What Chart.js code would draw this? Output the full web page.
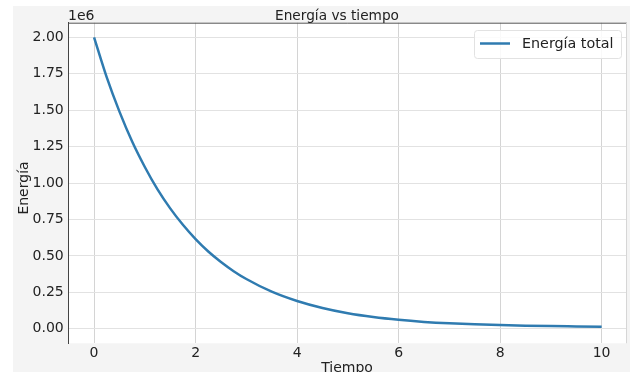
<!DOCTYPE html>
<html>
<head>
<meta charset="utf-8">
<script src="https://cdn.jsdelivr.net/npm/chart.js@4.4.1/dist/chart.umd.min.js"></script>
<style>
  html, body { margin: 0; padding: 0; background: #ffffff; }
  #wrap { width: 630px; height: 372px; position: relative; }
</style>
</head>
<body>
<div id="wrap"><canvas id="c" width="630" height="372"></canvas></div>
<script>
// Time samples (s) and total energy (J)
const tiempo = [0, 0.25, 0.5, 0.75, 1, 1.25, 1.5, 1.75, 2, 2.25, 2.5, 2.75, 3, 3.5, 4, 4.5, 5, 5.5,
                6, 6.5, 7, 7.5, 8, 8.5, 9, 9.5, 10];
const energia = [2000000, 1725000, 1490000, 1285000, 1110000, 956000, 826000, 713000, 615000, 530000,
                 458000, 395000, 341000, 254000, 190000, 142000, 106000, 80000, 61000, 47000, 37000,
                 30000, 25000, 21000, 18000, 16000, 14000];
const xTicks = [0, 2, 4, 6, 8, 10];
const yTicks = [0, 250000, 500000, 750000, 1000000, 1250000, 1500000, 1750000, 2000000];

const serieNombre = 'Energía total';
const titulo = 'Energía vs tiempo';
const ejeX = 'Tiempo';
const ejeY = 'Energía';
const FONT = '"DejaVu Sans", sans-serif';
const LINE = '#2f7bb0';

const puntos = tiempo.map((t, i) => ({ x: t, y: energia[i] }));

// Figure background, spines, title, offset text, axis labels and legend
const decor = {
  id: 'decor',
  beforeDraw(chart) {
    const { ctx, chartArea: a } = chart;
    ctx.save();
    ctx.fillStyle = '#ffffff';
    ctx.fillRect(0, 0, chart.width, chart.height);
    ctx.fillStyle = '#f4f4f4';
    ctx.fillRect(13, 6, chart.width - 13, chart.height - 6);
    ctx.fillStyle = '#ffffff';
    ctx.fillRect(a.left, a.top, a.right - a.left, a.bottom - a.top);
    ctx.restore();
  },
  afterDraw(chart) {
    const { ctx, chartArea: a } = chart;
    ctx.save();
    // top spine and right edge
    ctx.strokeStyle = '#555555';
    ctx.lineWidth = 1;
    ctx.beginPath();
    ctx.moveTo(a.left, a.top + 0.5);
    ctx.lineTo(a.right, a.top + 0.5);
    ctx.stroke();
    ctx.strokeStyle = '#d6d6d6';
    ctx.beginPath();
    ctx.moveTo(a.right - 0.5, a.top);
    ctx.lineTo(a.right - 0.5, a.bottom);
    ctx.stroke();

    ctx.fillStyle = '#222222';
    // title
    ctx.font = '13.7px ' + FONT;
    ctx.textAlign = 'center';
    ctx.textBaseline = 'alphabetic';
    ctx.fillText(titulo, 337, 20);
    // scale offset
    ctx.font = '14px ' + FONT;
    ctx.textAlign = 'left';
    ctx.fillText('1e6', 68, 20);
    // x axis title
    ctx.font = '14px ' + FONT;
    ctx.textAlign = 'center';
    ctx.fillText(ejeX, 347, 372);
    // y axis title
    ctx.save();
    ctx.translate(28, 188);
    ctx.rotate(-Math.PI / 2);
    ctx.textAlign = 'center';
    ctx.fillText(ejeY, 0, 0);
    ctx.restore();

    // legend
    const ds = chart.data.datasets[0];
    const bx = 474.5, by = 30.5, bw = 147, bh = 28, r = 3;
    ctx.fillStyle = 'rgba(255,255,255,0.85)';
    ctx.strokeStyle = '#e2e2e2';
    ctx.lineWidth = 1;
    ctx.beginPath();
    ctx.roundRect(bx, by, bw, bh, r);
    ctx.fill();
    ctx.stroke();
    ctx.strokeStyle = ds.borderColor;
    ctx.lineWidth = 2.5;
    ctx.beginPath();
    ctx.moveTo(480, 43.5);
    ctx.lineTo(510, 43.5);
    ctx.stroke();
    ctx.fillStyle = '#222222';
    ctx.font = '14.3px ' + FONT;
    ctx.textAlign = 'left';
    ctx.textBaseline = 'middle';
    ctx.fillText(ds.label, 522, 44);
    ctx.restore();
  }
};

new Chart(document.getElementById('c'), {
  type: 'line',
  data: {
    datasets: [{
      label: serieNombre,
      data: puntos,
      borderColor: LINE,
      borderWidth: 2.5,
      pointRadius: 0,
      fill: false,
      cubicInterpolationMode: 'monotone'
    }]
  },
  options: {
    responsive: false,
    animation: false,
    devicePixelRatio: 1,
    layout: { padding: { top: 22.7, right: 3, left: 0, bottom: 0 } },
    plugins: { legend: { display: false }, title: { display: false }, tooltip: { enabled: false } },
    scales: {
      x: {
        type: 'linear',
        min: -0.5,
        max: 10.5,
        afterBuildTicks: s => { s.ticks = xTicks.map(v => ({ value: v })); },
        afterFit: s => { s.height = 28.7; },
        grid: { color: '#d4d4d4', drawTicks: false, lineWidth: 1 },
        border: { display: false },
        ticks: { font: { family: FONT, size: 14 }, color: '#222222', padding: 2,
                 callback: v => String(v) }
      },
      y: {
        type: 'linear',
        min: -100000,
        max: 2100000,
        afterBuildTicks: s => { s.ticks = yTicks.map(v => ({ value: v })); },
        afterFit: s => { s.width = 68.7; },
        grid: { color: '#e2e2e2', drawTicks: false, lineWidth: 1 },
        border: { display: true, color: '#444444', width: 1 },
        ticks: { font: { family: FONT, size: 14 }, color: '#222222', padding: 5,
                 callback: v => (v / 1e6).toFixed(2) }
      }
    }
  },
  plugins: [decor]
});
</script>
</body>
</html>
